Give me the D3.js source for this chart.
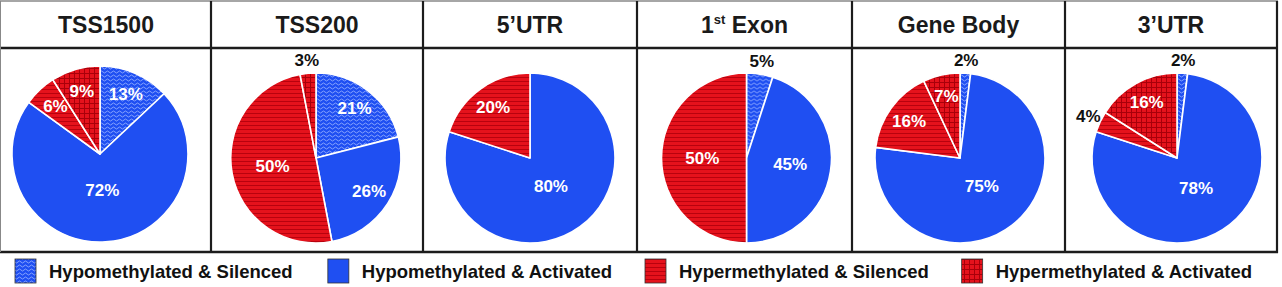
<!DOCTYPE html>
<html><head><meta charset="utf-8">
<script src="https://cdn.jsdelivr.net/npm/d3@7"></script>
<style>body{margin:0;background:#fff}svg{display:block;font-family:Arial,"Liberation Sans",sans-serif}</style>
</head><body><svg id="c" width="1282" height="287"></svg>
<script>
const regions = ["TSS1500","TSS200","5’UTR","1st Exon","Gene Body","3’UTR"];
const categories = ["Hypomethylated & Silenced","Hypomethylated & Activated","Hypermethylated & Silenced","Hypermethylated & Activated"];
const hypoSilenced   = [13,21,0,5,2,2];
const hypoActivated  = [72,26,80,45,75,78];
const hyperSilenced  = [6,50,20,50,16,4];
const hyperActivated = [9,3,0,0,7,16];

(function(){
const svg = d3.select("#c");
const BLUE="#1f4ff2", RED="#e5121c";
const defs = svg.append("defs");
let p = defs.append("pattern").attr("id","wavy").attr("patternUnits","userSpaceOnUse").attr("width",6).attr("height",4);
p.append("rect").attr("width",6).attr("height",4).attr("fill",BLUE);
p.append("path").attr("d","M0,2 L1.5,1 L3,2 L4.5,3 L6,2").attr("fill","none").attr("stroke","#9db6ff").attr("stroke-width",0.8);
p = defs.append("pattern").attr("id","stripes").attr("patternUnits","userSpaceOnUse").attr("width",4).attr("height",4);
p.append("rect").attr("width",4).attr("height",4).attr("fill",RED);
p.append("rect").attr("y",3).attr("width",4).attr("height",0.9).attr("fill","#b3000c");
p = defs.append("pattern").attr("id","checker").attr("patternUnits","userSpaceOnUse").attr("width",5).attr("height",5);
p.append("rect").attr("width",5).attr("height",5).attr("fill",RED);
p.append("rect").attr("y",4).attr("width",5).attr("height",1).attr("fill","#a8000a");
p.append("rect").attr("x",4).attr("width",1).attr("height",5).attr("fill","#a8000a");

const fills = ["url(#wavy)", BLUE, "url(#stripes)", "url(#checker)"];

const colEdges=[1,211,423,637,852,1065,1277];
const pieShift=[-6,-1,0,2,1.5,6];
const yTop=1, headB=48, yBot=252;
const x = d3.scaleOrdinal().domain(regions).range(regions.map((r,i)=>(colEdges[i]+colEdges[i+1])/2));

regions.forEach((r,i)=>{
  const t = svg.append("text").attr("x",x(r)).attr("y",33).attr("text-anchor","middle")
    .attr("font-size",23).attr("font-weight","bold").attr("fill","#1a1a1a");
  if(r.startsWith("1st")){
    t.append("tspan").text("1");
    t.append("tspan").text("st").attr("font-size",13).attr("dy",-9);
    t.append("tspan").text(" Exon").attr("dy",9);
  } else t.text(r);
});

const pie = d3.pie().sort(null).value(d=>d.v);
regions.forEach((r,i)=>{
  const vals=[hypoSilenced[i],hypoActivated[i],hyperSilenced[i],hyperActivated[i]];
  const R = i===0?88:85;
  const cy = i===0?154:158;
  const g = svg.append("g").attr("transform",`translate(${x(r)+pieShift[i]},${cy})`);
  const arcs = pie(vals.map((v,k)=>({v,k}))).filter(a=>a.data.v>0);
  const arc = d3.arc().innerRadius(0).outerRadius(R);
  g.selectAll("path").data(arcs).join("path").attr("d",arc)
    .attr("fill",a=>fills[a.data.k]).attr("stroke","#fff").attr("stroke-width",1.6).attr("stroke-linejoin","round");
  arcs.forEach(a=>{
    const v=a.data.v, mid=(a.startAngle+a.endAngle)/2;
    let rr, col;
    if(v<6){ rr=R+13; col="#111"; }
    else { rr = v>=70? R*0.42 : v>=40? R*0.52 : R*0.74; col="#fff"; }
    g.append("text").attr("x",Math.sin(mid)*rr).attr("y",-Math.cos(mid)*rr)
      .attr("text-anchor","middle").attr("dominant-baseline","central")
      .attr("font-size",17).attr("font-weight","bold").attr("fill",col).text(v+"%");
  });
});

const lc="#1c1c1c";
svg.append("line").attr("x1",0).attr("x2",1278).attr("y1",yTop).attr("y2",yTop).attr("stroke","#888").attr("stroke-width",1.5);
svg.append("line").attr("x1",0).attr("x2",1278).attr("y1",headB).attr("y2",headB).attr("stroke",lc).attr("stroke-width",2.5);
svg.append("line").attr("x1",0).attr("x2",1278).attr("y1",yBot).attr("y2",yBot).attr("stroke",lc).attr("stroke-width",2.5);
colEdges.slice(1).forEach(cx=>{
  svg.append("line").attr("x1",cx).attr("x2",cx).attr("y1",yTop).attr("y2",yBot+1).attr("stroke",lc).attr("stroke-width",2.2);
});
svg.append("line").attr("x1",0.5).attr("x2",0.5).attr("y1",yTop).attr("y2",yBot).attr("stroke","#888").attr("stroke-width",1);

// legend: items 1 & 3 anchored at left, 2 & 4 anchored at right end
const legFont=18.5;
const anchors=[{x:49,end:false},{x:612,end:true},{x:679,end:false},{x:1252,end:true}];
categories.forEach((c,k)=>{
  const t = svg.append("text").attr("y",271).attr("dominant-baseline","central")
    .attr("font-size",legFont).attr("font-weight","bold").attr("fill","#111").text(c);
  let tx = anchors[k].x;
  if(anchors[k].end){ tx = anchors[k].x - t.node().getComputedTextLength(); }
  t.attr("x",tx);
  svg.append("rect").attr("x",tx-34).attr("y",259).attr("width",21).attr("height",24)
    .attr("fill",fills[k]).attr("stroke","#333").attr("stroke-width",0.8);
});
})();
</script></body></html>
